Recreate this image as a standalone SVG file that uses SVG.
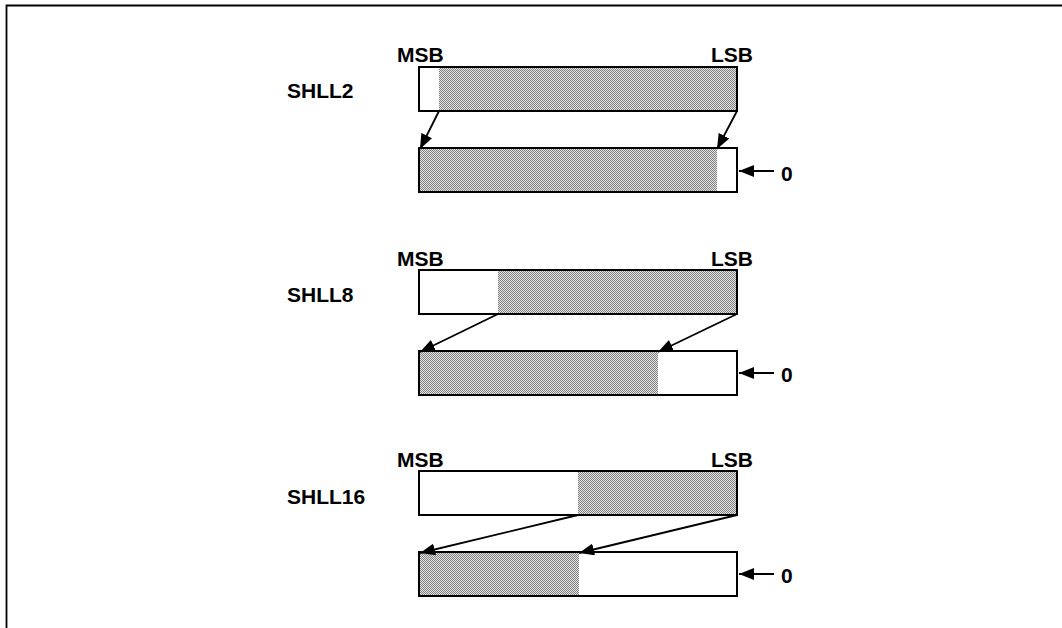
<svg xmlns="http://www.w3.org/2000/svg" width="1062" height="628" viewBox="0 0 1062 628">
<style>
.lbl{font-family:"Liberation Sans",Arial,sans-serif;font-size:21px;font-weight:bold;fill:#000}
.box{fill:none;stroke:#000;stroke-width:2}
.gray{fill:url(#stip);stroke:none}
.ln{stroke:#000;stroke-width:1.8;fill:none}
.frame{stroke:#000;stroke-width:1.8;fill:none}
</style>
<defs>
<pattern id="stip" x="0" y="0" width="2" height="2" patternUnits="userSpaceOnUse">
<rect x="0" y="0" width="2" height="2" fill="#e4e4e4"/>
<rect x="0" y="0" width="1" height="1" fill="#808080"/>
<rect x="1" y="1" width="1" height="1" fill="#808080"/>
</pattern>
<marker id="ah" viewBox="0 0 15 12" refX="15" refY="6" markerWidth="15" markerHeight="12" markerUnits="userSpaceOnUse" orient="auto">
<path d="M0,0 L15,6 L0,12 Z" fill="#000"/>
</marker>
</defs>
<path class="frame" d="M6.5,628 V5.5 H1062"/>

<g id="shll2">
<text class="lbl" x="287" y="98">SHLL2</text>
<text class="lbl" x="397" y="62">MSB</text>
<text class="lbl" x="711" y="62">LSB</text>
<rect class="gray" x="439" y="67" width="298" height="44"/>
<rect class="box" x="419" y="67" width="318" height="44"/>
<rect class="gray" x="419" y="148" width="298" height="44"/>
<rect class="box" x="419" y="148" width="318" height="44"/>
<text class="lbl" x="781" y="181">0</text>
</g>

<g id="shll8">
<text class="lbl" x="287" y="302">SHLL8</text>
<text class="lbl" x="397" y="266">MSB</text>
<text class="lbl" x="711" y="266">LSB</text>
<rect class="gray" x="498" y="270" width="239" height="44"/>
<rect class="box" x="419" y="270" width="318" height="44"/>
<rect class="gray" x="419" y="351" width="239" height="44"/>
<rect class="box" x="419" y="351" width="318" height="44"/>
<text class="lbl" x="781" y="382">0</text>
</g>

<g id="shll16">
<text class="lbl" x="287" y="504">SHLL16</text>
<text class="lbl" x="397" y="467">MSB</text>
<text class="lbl" x="711" y="467">LSB</text>
<rect class="gray" x="578" y="471" width="159" height="44"/>
<rect class="box" x="419" y="471" width="318" height="44"/>
<rect class="gray" x="419" y="552" width="160" height="44"/>
<rect class="box" x="419" y="552" width="318" height="44"/>
<text class="lbl" x="781" y="583">0</text>
</g>

<g id="connectors">
<line class="ln" x1="439" y1="111" x2="420" y2="149" marker-end="url(#ah)"/>
<line class="ln" x1="737" y1="111" x2="717" y2="149" marker-end="url(#ah)"/>
<line class="ln" x1="774" y1="171" x2="739" y2="171" marker-end="url(#ah)"/>

<line class="ln" x1="498" y1="314" x2="420" y2="352" marker-end="url(#ah)"/>
<line class="ln" x1="737" y1="314" x2="658" y2="352" marker-end="url(#ah)"/>
<line class="ln" x1="774" y1="373" x2="739" y2="373" marker-end="url(#ah)"/>

<line class="ln" x1="578" y1="515" x2="420" y2="553" marker-end="url(#ah)"/>
<line class="ln" x1="737" y1="515" x2="579" y2="553" marker-end="url(#ah)"/>
<line class="ln" x1="774" y1="574" x2="739" y2="574" marker-end="url(#ah)"/>
</g>
</svg>
